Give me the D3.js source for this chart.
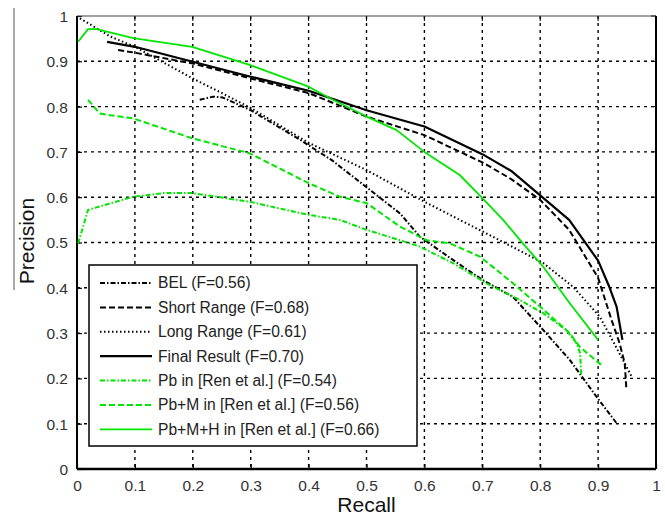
<!DOCTYPE html>
<html>
<head>
<meta charset="utf-8">
<script src="https://cdnjs.cloudflare.com/ajax/libs/d3/7.8.5/d3.min.js"></script>
<style>
  body { margin: 0; background: #fff; }
  svg text { font-family: "Liberation Sans", Arial, sans-serif; }
</style>
</head>
<body>
<div id="chart"></div>
<script>
// ---- data (recall, precision) ----
var xTicks = [0, 0.1, 0.2, 0.3, 0.4, 0.5, 0.6, 0.7, 0.8, 0.9, 1];
var yTicks = [0, 0.1, 0.2, 0.3, 0.4, 0.5, 0.6, 0.7, 0.8, 0.9, 1];

var belPts = [[0.212,0.815],[0.235,0.822],[0.252,0.820],[0.300,0.792],[0.385,0.727],[0.442,0.680],
  [0.500,0.622],[0.558,0.564],[0.592,0.513],[0.650,0.461],[0.701,0.417],[0.753,0.380],
  [0.805,0.307],[0.851,0.241],[0.897,0.160],[0.932,0.101]];
var shortPts = [[0.071,0.925],[0.100,0.919],[0.200,0.895],[0.300,0.862],[0.400,0.830],[0.500,0.778],
  [0.600,0.737],[0.700,0.677],[0.750,0.640],[0.800,0.594],[0.850,0.528],[0.900,0.422],
  [0.923,0.330],[0.937,0.278],[0.946,0.233],[0.949,0.174]];
var longPts = [[0.005,0.995],[0.057,0.955],[0.100,0.932],[0.200,0.862],[0.250,0.830],[0.300,0.797],
  [0.400,0.720],[0.450,0.690],[0.500,0.660],[0.600,0.590],[0.661,0.550],[0.730,0.505],
  [0.805,0.455],[0.857,0.402],[0.903,0.336],[0.937,0.255],[0.958,0.204]];
var finalPts = [[0.052,0.943],[0.100,0.932],[0.200,0.899],[0.300,0.866],[0.400,0.835],[0.500,0.792],
  [0.600,0.756],[0.700,0.695],[0.750,0.658],[0.800,0.604],[0.850,0.550],[0.900,0.460],
  [0.920,0.400],[0.932,0.358],[0.942,0.285]];
var pbPts = [[0.002,0.498],[0.019,0.572],[0.097,0.601],[0.149,0.609],[0.199,0.609],[0.298,0.590],
  [0.400,0.561],[0.454,0.550],[0.500,0.528],[0.558,0.505],[0.592,0.491],[0.650,0.454],
  [0.707,0.410],[0.765,0.373],[0.805,0.344],[0.845,0.307],[0.863,0.277],[0.869,0.255],[0.871,0.204]];
var pbmPts = [[0.019,0.815],[0.039,0.785],[0.057,0.781],[0.097,0.774],[0.199,0.730],[0.298,0.697],
  [0.400,0.631],[0.454,0.601],[0.500,0.587],[0.558,0.535],[0.604,0.505],[0.644,0.498],
  [0.696,0.469],[0.753,0.410],[0.800,0.358],[0.851,0.300],[0.868,0.270],[0.909,0.226]];
var pbmhPts = [[0.002,0.943],[0.019,0.971],[0.034,0.971],[0.097,0.951],[0.199,0.932],[0.298,0.892],
  [0.400,0.844],[0.442,0.815],[0.500,0.778],[0.552,0.748],[0.600,0.700],[0.661,0.649],
  [0.701,0.597],[0.736,0.550],[0.770,0.498],[0.805,0.447],[0.851,0.366],[0.900,0.285]];

var seriesNames = ["BEL (F=0.56)", "Short Range (F=0.68)", "Long Range (F=0.61)", "Final Result (F=0.70)",
  "Pb in [Ren et al.] (F=0.54)", "Pb+M in [Ren et al.] (F=0.56)", "Pb+M+H in [Ren et al.] (F=0.66)"];
var seriesPts = [belPts, shortPts, longPts, finalPts, pbPts, pbmPts, pbmhPts];

// styles for each series
var green = "#00e600";
var styles = [
  {color: "#000", width: 2,   dash: "5,2,1.5,2"},
  {color: "#000", width: 2,   dash: "6,3"},
  {color: "#000", width: 2,   dash: "1.5,2.5"},
  {color: "#000", width: 2.2, dash: null},
  {color: green,  width: 2,   dash: "5,2,1.5,2"},
  {color: green,  width: 2,   dash: "6,3"},
  {color: green,  width: 1.8, dash: null}
];

var W = 665, H = 521;
var margin = {top: 16, right: 9, bottom: 52, left: 77};
var width = W - margin.left - margin.right,
    height = H - margin.top - margin.bottom;

var svg = d3.select("#chart").append("svg")
  .attr("width", W).attr("height", H);

var xScale = d3.scaleLinear().domain([0, 1]).range([0, width]);
var yScale = d3.scaleLinear().domain([0, 1]).range([height, 0]);

var g = svg.append("g")
  .attr("transform", "translate(" + margin.left + "," + margin.top + ")");

// grid (dotted, black)
g.append("g").selectAll("line").data(xTicks.slice(1, -1)).enter().append("line")
  .attr("x1", function(d) { return xScale(d); }).attr("x2", function(d) { return xScale(d); })
  .attr("y1", 0).attr("y2", height)
  .attr("stroke", "#000").attr("stroke-width", 1.4).attr("stroke-dasharray", "3,4");
g.append("g").selectAll("line").data(yTicks.slice(1, -1)).enter().append("line")
  .attr("y1", function(d) { return yScale(d); }).attr("y2", function(d) { return yScale(d); })
  .attr("x1", 0).attr("x2", width)
  .attr("stroke", "#000").attr("stroke-width", 1.4).attr("stroke-dasharray", "3,4");

// axes
var xAxis = d3.axisBottom(xScale).tickValues(xTicks).tickSize(-5).tickPadding(11)
  .tickFormat(function(d) { return d3.format("")(d); });
var yAxis = d3.axisLeft(yScale).tickValues(yTicks).tickSize(-5).tickPadding(9)
  .tickFormat(function(d) { return d3.format("")(d); });

var xAxisEl = g.append("g").attr("transform", "translate(0," + height + ")").call(xAxis);
var yAxisEl = g.append("g").call(yAxis);
[xAxisEl, yAxisEl].forEach(function(a) {
  a.select(".domain").remove();
  a.selectAll(".tick line").attr("stroke", "#000").attr("stroke-width", 1.2);
  a.selectAll(".tick text").attr("fill", "#333").style("font-size", "15.5px");
});
yAxisEl.selectAll(".tick text").attr("dy", "0.35em");

// top & right ticks
g.append("g").selectAll("line").data(xTicks).enter().append("line")
  .attr("x1", function(d) { return xScale(d); }).attr("x2", function(d) { return xScale(d); })
  .attr("y1", 0).attr("y2", 5).attr("stroke", "#000");
g.append("g").selectAll("line").data(yTicks).enter().append("line")
  .attr("y1", function(d) { return yScale(d); }).attr("y2", function(d) { return yScale(d); })
  .attr("x1", width).attr("x2", width - 5).attr("stroke", "#000");

// box
g.append("line").attr("x1", 0).attr("x2", width).attr("y1", 0).attr("y2", 0)
  .attr("stroke", "#444").attr("stroke-width", 1.2);
g.append("line").attr("x1", width).attr("x2", width).attr("y1", 0).attr("y2", height)
  .attr("stroke", "#000").attr("stroke-width", 2);
g.append("line").attr("x1", 0).attr("x2", width).attr("y1", height).attr("y2", height)
  .attr("stroke", "#000").attr("stroke-width", 2.5);
g.append("line").attr("x1", 0).attr("x2", 0).attr("y1", 0).attr("y2", height)
  .attr("stroke", "#000").attr("stroke-width", 2);

// curves
var line = d3.line()
  .x(function(d) { return xScale(d[0]); })
  .y(function(d) { return yScale(d[1]); });

seriesPts.forEach(function(pts, i) {
  var s = styles[i];
  g.append("path").datum(pts)
    .attr("d", line)
    .attr("fill", "none")
    .attr("stroke", s.color)
    .attr("stroke-width", s.width)
    .attr("stroke-linejoin", "round")
    .attr("stroke-dasharray", s.dash);
});

// legend
var legend = svg.append("g").attr("transform", "translate(89,265)");
legend.append("rect").attr("width", 328).attr("height", 181)
  .attr("fill", "#fff").attr("stroke", "#000").attr("stroke-width", 1.5);
var rows = legend.selectAll("g.row").data(seriesNames).enter().append("g")
  .attr("class", "row")
  .attr("transform", function(d, i) { return "translate(0," + (18 + i * 24.4) + ")"; });
rows.append("line")
  .attr("x1", 11).attr("x2", 63).attr("y1", 0).attr("y2", 0)
  .attr("stroke", function(d, i) { return styles[i].color; })
  .attr("stroke-width", function(d, i) { return styles[i].width; })
  .attr("stroke-dasharray", function(d, i) { return styles[i].dash; });
rows.append("text")
  .attr("x", 69).attr("y", 0).attr("dy", "0.35em")
  .style("font-size", "15.6px").attr("fill", "#222")
  .text(function(d) { return d; });

// axis titles
svg.append("text")
  .attr("x", margin.left + width / 2).attr("y", 512)
  .attr("text-anchor", "middle").style("font-size", "21px").attr("fill", "#111")
  .text("Recall");
svg.append("text")
  .attr("transform", "translate(34," + (margin.top + 225) + ") rotate(-90)")
  .attr("text-anchor", "middle").style("font-size", "21px").attr("fill", "#111")
  .text("Precision");

// stray vertical rule at the left edge
svg.append("line").attr("x1", 14).attr("x2", 14).attr("y1", 8).attr("y2", 290)
  .attr("stroke", "#555").attr("stroke-width", 1);
</script>
</body>
</html>
